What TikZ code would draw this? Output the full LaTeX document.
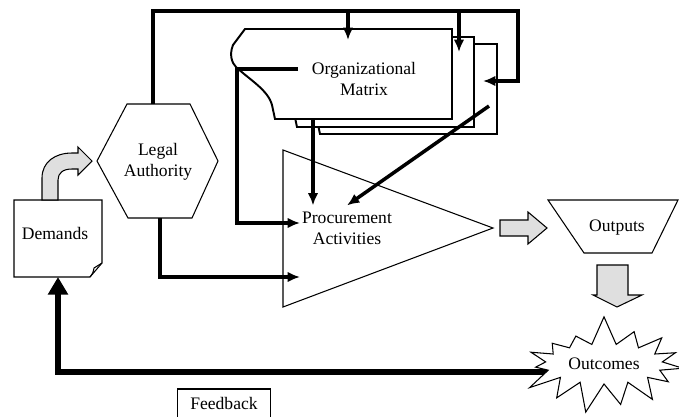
\documentclass[tikz,border=0pt]{standalone}
\usepackage{fontspec}
\setmainfont{Liberation Serif}
\usetikzlibrary{arrows.meta,shapes.symbols,calc}
\tikzset{
	thinline/.style={line width=0.6pt},
	card/.style={line width=1.1pt, fill=white},
	wire/.style={line width=2pt},
	wire arrow/.style={wire, -{Latex[length=7pt,width=6pt]}},
	feedback line/.style={line width=3.6pt, -{Triangle[length=10pt,width=11pt]}},
	block arrow/.style={thinline, fill=gray!25},
	txt/.style={align=center, font=\fontsize{10}{12}\selectfont},
}
\begin{document}
\begin{tikzpicture}[x=0.02cm,y=-0.02cm]
	\useasboundingbox (0,0) rectangle (679,416);
	\foreach \dx/\dy in {45/15, 22/8, 0/0} {
		\draw[card, shift={(\dx,\dy)}] (245,29) -- (452,29) -- (452,119) -- (275,119) -- (272,105)
			.. controls (268,90) and (250,80) .. (236,67)
			.. controls (232,63) and (229,55) .. (233,45) -- cycle;
	}
	\node[txt] (matrix) at (364,79) {Organizational\\Matrix};
	\draw[thinline] (283,150) -- (493,228) -- (283,307) -- cycle;
	\node[txt] (procurement) at (347,228) {Procurement\\Activities};
	\draw[thinline] (97,161) -- (127,104) -- (190,104) -- (218,161) -- (192,218) -- (128,218) -- cycle;
	\node[txt] (legal) at (158,162) {Legal\\Authority};
	\draw[thinline] (14,200) -- (102,200) -- (102,263) -- (90,277) -- (14,277) -- cycle;
	\draw[thinline] (90,277) .. controls (93,273) .. (94,268) -- (102,263);
	\node[txt] (demands) at (55,233) {Demands};
	\draw[thinline] (548,200) -- (678,200) -- (652,253) -- (584,253) -- cycle;
	\node[txt] (outputs) at (617,228) {Outputs};
	\node[draw, thinline, txt, minimum width=1.86cm, minimum height=0.58cm] (feedback) at (224,403.5) {Feedback};

	\coordinate (la top) at (153,104);
	\coordinate (la bottom) at (160,218);
	\coordinate (t1) at (348,11);
	\coordinate (t2) at (459,11);
	\coordinate (m right) at (483,81);
	\coordinate (m out) at (298,69);
	\coordinate (m bottom) at (313,119);
	\coordinate (m diag) at (489,106);
	\coordinate (p in1) at (300,223);
	\coordinate (p in2) at (300,277);
	\coordinate (demands bottom) at (58,277);
	\coordinate (fb start) at (570,372);

	\draw[wire arrow] (la top) -- (153,11) -- (518,11) |- (m right);
	\draw[wire arrow] (t1) -- ++(0,29);
	\draw[wire arrow] (t2) -- ++(0,41);
	\draw[wire arrow] (m out) -- ++(-61,0) |- (p in1);
	\draw[wire arrow] (la bottom) |- (p in2);
	\draw[wire arrow] (m bottom) -- (m bottom |- procurement.north);
	\draw[wire arrow] (m diag) -- (procurement.north);

	\draw[block arrow] (42,200) -- (42,178) .. controls (42,162) and (55,153) .. (72,153) -- (78,153) -- (78,147)
		-- (92,161) -- (78,175) -- (78,169) -- (72,169) .. controls (63,169) and (58,173) .. (58,180) -- (58,200) -- cycle;
	\draw[block arrow] (500,220) -- (528,220) -- (528,212) -- (547,228) -- (528,244) -- (528,236) -- (500,236) -- cycle;
	\draw[block arrow] (597,265) -- (628,265) -- (628,295) -- (642,295) -- (617,307) -- (593,295) -- (597,295) -- cycle;

	\draw[feedback line] (fb start) -| (demands bottom);
	\node[starburst, starburst points=15, starburst point height=0.6cm, random starburst=7, draw, thinline, fill=white, txt,
		minimum width=2.96cm, minimum height=2cm] (outcomes) at (604,364) {Outcomes};
\end{tikzpicture}
\end{document}
